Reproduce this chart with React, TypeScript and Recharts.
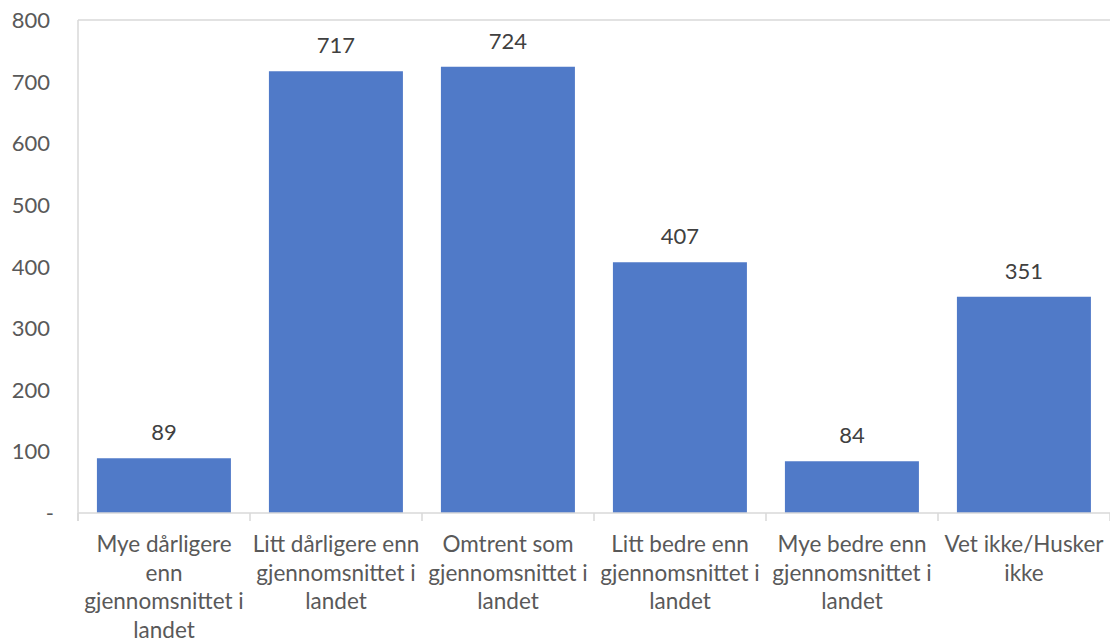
import React from "react";
import { BarChart, Bar, XAxis, YAxis, LabelList, ReferenceLine } from "recharts";

const categories = [
  "Mye dårligere\nenn\ngjennomsnittet i\nlandet",
  "Litt dårligere enn\ngjennomsnittet i\nlandet",
  "Omtrent som\ngjennomsnittet i\nlandet",
  "Litt bedre enn\ngjennomsnittet i\nlandet",
  "Mye bedre enn\ngjennomsnittet i\nlandet",
  "Vet ikke/Husker\nikke",
];
const counts = [89, 717, 724, 407, 84, 351];
const yTicks = [0, 100, 200, 300, 400, 500, 600, 700, 800];

const data = categories.map((name, i) => ({ name, value: counts[i] }));

const W = 1110;
const H = 643;
const LEFT = 78;
const RIGHT_PAD = 0;
const TOP = 20;
const AXIS_H = 130;
const FONT = "Lato, 'Open Sans', sans-serif";
const bandW = (W - LEFT - RIGHT_PAD) / categories.length;
const axisY = H - AXIS_H;

const XTick = (props: any) => {
  const { x, payload, index } = props;
  const lines = String(payload.value).split("\n");
  return (
    <g>
      <line x1={x - bandW / 2} x2={x - bandW / 2} y1={axisY} y2={axisY + 8} stroke="#d9d9d9" strokeWidth={1.5} />
      {index === categories.length - 1 && (
        <line x1={x + bandW / 2} x2={x + bandW / 2} y1={axisY} y2={axisY + 8} stroke="#d9d9d9" strokeWidth={1.5} />
      )}
      <text x={x} y={axisY + 39} textAnchor="middle" fill="#595959" fontSize={22.5} fontFamily={FONT}>
        {lines.map((l, i) => (
          <tspan key={i} x={x} dy={i === 0 ? 0 : 28.5}>
            {l}
          </tspan>
        ))}
      </text>
    </g>
  );
};

const YTick = (props: any) => {
  const { x, y, payload } = props;
  const v = payload.value;
  return (
    <text
      x={v === 0 ? x - 16 : x - 20}
      y={y}
      dy={8}
      textAnchor="end"
      fill="#595959"
      fontSize={22}
      fontFamily={FONT}
    >
      {v === 0 ? "-" : v}
    </text>
  );
};

export default function App() {
  return (
    <div style={{ position: "absolute", left: 0, top: 0, width: W, height: H, background: "#fff" }}>
      <BarChart
        width={W}
        height={H}
        data={data}
        margin={{ top: TOP, right: RIGHT_PAD, left: 0, bottom: 0 }}
        barCategoryGap="11%"
      >
        <XAxis
          dataKey="name"
          interval={0}
          height={AXIS_H}
          tickLine={false}
          axisLine={{ stroke: "#d9d9d9", strokeWidth: 1.5 }}
          tick={<XTick />}
        />
        <YAxis
          width={LEFT}
          domain={[0, 800]}
          ticks={yTicks}
          tickLine={false}
          axisLine={false}
          tick={<YTick />}
        />
        <ReferenceLine y={800} stroke="#d9d9d9" strokeWidth={1.5} />
        <Bar dataKey="value" fill="#507ac8" isAnimationActive={false}>
          <LabelList
            dataKey="value"
            position="top"
            offset={18}
            fill="#404040"
            fontSize={22}
            fontFamily={FONT}
          />
        </Bar>
      </BarChart>
      <svg
        width={W}
        height={H}
        style={{ position: "absolute", left: 0, top: 0, pointerEvents: "none" }}
      >
        <line x1={LEFT} x2={LEFT} y1={TOP} y2={axisY + 8} stroke="#d9d9d9" strokeWidth={1.5} />
      </svg>
    </div>
  );
}
